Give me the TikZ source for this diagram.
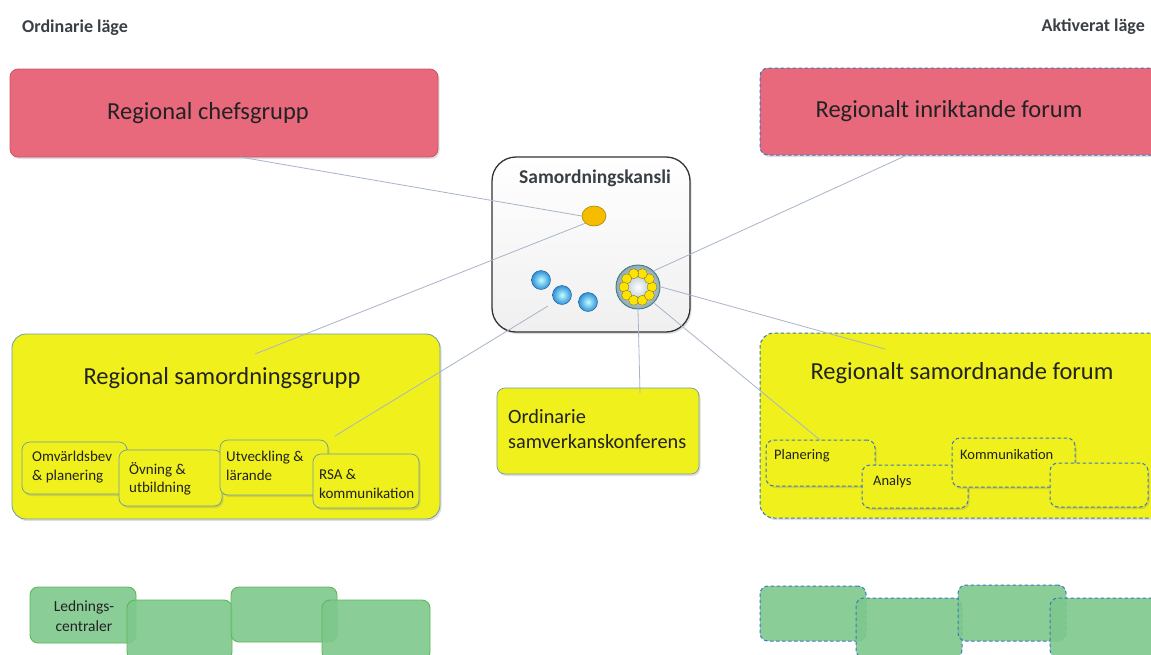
\documentclass[tikz,border=0pt]{standalone}
\usepackage{fontspec}
\setmainfont{Carlito}
\usetikzlibrary{shadows,shapes.geometric}
\definecolor{pinkr}{HTML}{E8687C}
\definecolor{yel}{HTML}{F0F01C}
\definecolor{grn}{HTML}{7EC88C}
\definecolor{grnb}{HTML}{5CB85A}
\definecolor{dashb}{HTML}{3A78C0}
\definecolor{linec}{HTML}{A8B4C8}
\definecolor{ybord}{HTML}{6E9CA4}
\definecolor{txt}{HTML}{222222}
\definecolor{ttl}{HTML}{3A3F45}
\definecolor{orng}{HTML}{F5BC00}
\definecolor{ballb}{HTML}{2E8FDA}
\definecolor{ringo}{HTML}{8FA8B8}
\tikzset{
  box/.style={rounded corners=8pt, inner sep=0pt, line width=0.8pt},
  shd/.style={drop shadow={opacity=0.25, shadow xshift=1.5pt, shadow yshift=-2pt}},
  pinkbox/.style={box, fill=pinkr, draw=pinkr!85!black, shd},
  yelbox/.style={box, rounded corners=14pt, fill=yel, draw=ybord, shd},
  subbox/.style={box, fill=yel, draw=ybord, line width=0.7pt, shd},
  grnbox/.style={box, fill=grn, fill opacity=0.9, draw=grnb, line width=0.9pt},
  dsh/.style={draw=dashb, line width=1pt, dash pattern=on 3.5pt off 2.5pt},
  lbl/.style={inner sep=0pt, text=txt},
  biglbl/.style={lbl, font=\fontsize{24.5}{28}\selectfont},
  smalllbl/.style={lbl, font=\fontsize{15}{18.5}\selectfont, align=left, anchor=west},
  rlbl/.style={lbl, font=\fontsize{14.5}{17}\selectfont, anchor=west},
  ttllbl/.style={inner sep=0pt, text=ttl, font=\fontsize{18}{21}\selectfont\bfseries},
  conn/.style={draw=linec, line width=0.8pt},
}
\begin{document}
\begin{tikzpicture}[x=1pt,y=-1pt]
\useasboundingbox (0,0) rectangle (1151,654);
\fill[white] (0,0) rectangle (1151,654);

% titles
\node[ttllbl, anchor=west] (t1) at (22,28) {Ordinarie läge};
\node[ttllbl, anchor=east] (t2) at (1145,27) {Aktiverat läge};

% top pink boxes
\node[pinkbox, minimum width=428pt, minimum height=88pt] (chef) at (224,113) {};
\node[biglbl] (chefl) at (208,113) {Regional chefsgrupp};
\node[pinkbox, dsh, minimum width=410pt, minimum height=87pt] (inr) at (965,111.5) {};
\node[biglbl] (inrl) at (949,111) {Regionalt inriktande forum};

% yellow big boxes
\node[yelbox, minimum width=428pt, minimum height=185pt] (sgrp) at (226,426.5) {};
\node[biglbl] (sgrpl) at (222,378) {Regional samordningsgrupp};
\node[yelbox, dsh, minimum width=410pt, minimum height=185pt] (sfor) at (965,425.5) {};
\node[biglbl] (sforl) at (962,373) {Regionalt samordnande forum};

% left sub boxes
\node[subbox, minimum width=105pt, minimum height=52pt] (omv) at (74.5,468) {};
\node[smalllbl] (omvl) at (32,467) {Omvärldsbev\\\& planering};
\node[subbox, minimum width=103pt, minimum height=56pt] (ovn) at (170.5,478) {};
\node[smalllbl] (ovnl) at (129,479) {Övning \&\\utbildning};
\node[subbox, minimum width=108pt, minimum height=55pt] (utv) at (274,467.5) {};
\node[smalllbl] (utvl) at (226,466) {Utveckling \&\\lärande};
\node[subbox, minimum width=106pt, minimum height=54pt] (rsa) at (366,481) {};
\node[smalllbl] (rsal) at (319,484) {RSA \&\\kommunikation};

% right sub boxes (dashed)
\node[subbox, dsh, minimum width=109pt, minimum height=46pt] (plan) at (820.5,463) {};
\node[rlbl] (planl) at (774,456) {Planering};
\node[subbox, dsh, minimum width=106pt, minimum height=43pt] (anal) at (915,486.5) {};
\node[rlbl] (anall) at (873,482) {Analys};
\node[subbox, dsh, minimum width=123pt, minimum height=49pt] (komm) at (1013.5,462.5) {};
\node[rlbl] (komml) at (960,455) {Kommunikation};
\node[subbox, dsh, minimum width=98pt, minimum height=44pt] (emp) at (1099,485) {};

% konferens
\node[subbox, minimum width=202pt, minimum height=86pt] (konf) at (598,431) {};
\node[lbl, anchor=west, align=left, font=\fontsize{20.3}{25}\selectfont] (konfl) at (508,429) {Ordinarie\\samverkanskonferens};

% green boxes left
\node[grnbox, minimum width=106pt, minimum height=56pt] (g1) at (83,615) {};
\node[lbl, align=center, font=\fontsize{15.5}{20}\selectfont] (g1l) at (84,616) {Lednings-\\centraler};
\node[grnbox, minimum width=105pt, minimum height=60pt] (g2) at (179.5,630) {};
\node[grnbox, minimum width=106pt, minimum height=55pt] (g3) at (284,614.5) {};
\node[grnbox, minimum width=108pt, minimum height=60pt] (g4) at (376,630) {};
% green boxes right
\node[grnbox, dsh, minimum width=106pt, minimum height=55pt] (h1) at (813,613.5) {};
\node[grnbox, dsh, minimum width=106pt, minimum height=60pt] (h2) at (909,628) {};
\node[grnbox, dsh, minimum width=108pt, minimum height=56pt] (h3) at (1012,613) {};
\node[grnbox, dsh, minimum width=110pt, minimum height=60pt] (h4) at (1105,628) {};

% Samordningskansli
\node[box, rounded corners=24pt, minimum width=198pt, minimum height=175pt, draw=gray!40!black, line width=1.3pt, top color=white, bottom color=gray!12, shd] (kans) at (591,244.5) {};
\node[ttllbl, font=\fontsize{19.5}{22}\selectfont\bfseries] (kansl) at (595,178) {Samordningskansli};

% connectors
\coordinate (c1) at (240,157);
\coordinate (c2) at (255,354);
\coordinate (c3) at (335,436);
\coordinate (c4) at (905,156);
\coordinate (c5) at (885,349);
\coordinate (c6) at (820,440);
\coordinate (c7) at (640,393);
\coordinate (e3) at (548,306);
\node[circle, minimum size=46pt, inner sep=0pt] (ring) at (638,287) {};
\node[ellipse, minimum width=24pt, minimum height=20pt, inner sep=0pt] (orng) at (594,216) {};
\draw[conn] (c1) -- (orng.west);
\draw[conn] (c2) -- (orng.south west);
\draw[conn] (c3) -- (e3);
\draw[conn] (c4) -- (ring.north east);
\draw[conn] (c5) -- (ring.east);
\draw[conn] (c6) -- (ring.south east);
\draw[conn] (c7) -- (ring.south);

% kansli contents
\fill[draw=orng!70!black, line width=0.6pt, fill=orng] (orng.center) ellipse[x radius=12pt, y radius=10pt];
\foreach \n/\p in {b1/{(541,280)}, b2/{(562,295)}, b3/{(588,302)}}{
  \node[circle, minimum size=19pt, inner sep=0pt, draw=ballb!60!black, line width=0.4pt, inner color=cyan!25!white, outer color=ballb] (\n) at \p {};
}
\fill[draw=teal!50!gray, line width=0.9pt, inner color=white, outer color=ringo] (ring.center) circle[radius=22pt];
\foreach \a in {0,36,...,324}{
  \fill[draw=olive!70!black, line width=0.3pt, fill=yellow!85!orange] (ring.center) ++(\a:14pt) circle[radius=5pt];
}
\end{tikzpicture}
\end{document}
